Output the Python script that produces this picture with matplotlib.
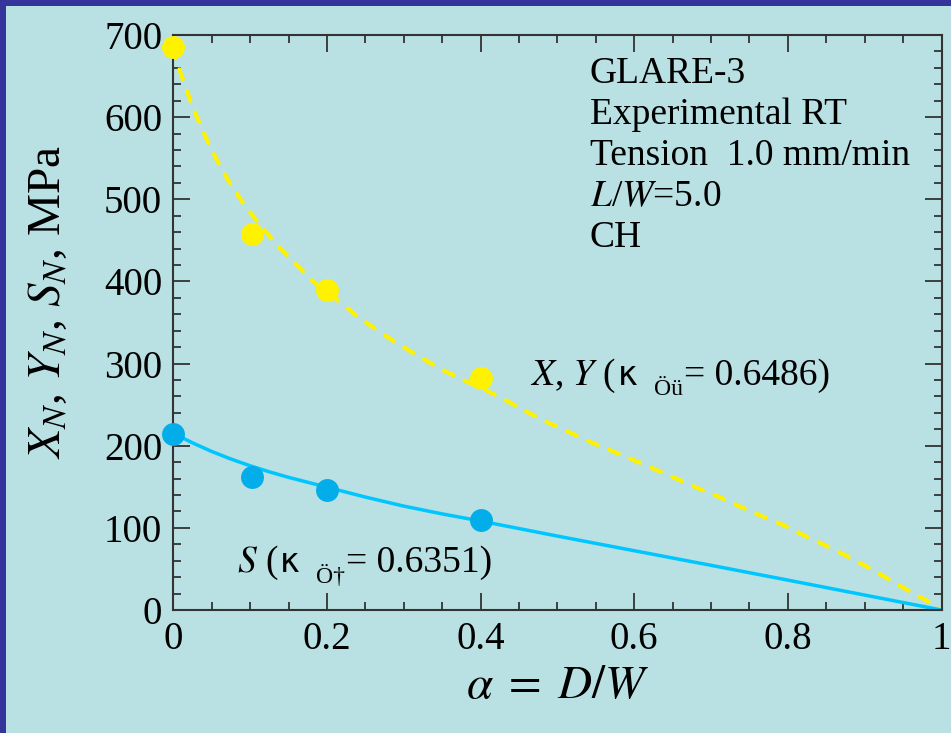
import matplotlib
matplotlib.use("Agg")
import matplotlib.pyplot as plt
from matplotlib.patches import Rectangle
from matplotlib.ticker import MultipleLocator
from matplotlib.transforms import IdentityTransform

plt.rcParams["font.family"] = ["Liberation Serif", "DejaVu Serif"]
plt.rcParams["mathtext.fontset"] = "stix"

# Measured notched strengths (MPa) vs. hole-to-width ratio
alpha_pts = [0.0, 0.103, 0.2, 0.4]
xy_pts = [685, 458, 390, 282]
s_pts = [214, 162, 146, 110]

# Fitted strength curves
xy_curve_a = [0, 0.0037, 0.011, 0.0208, 0.0317, 0.0434, 0.0573, 0.0725, 0.0911,
              0.1128, 0.1367, 0.1822, 0.208, 0.2387, 0.2668, 0.295, 0.322, 0.349,
              0.3775, 0.4057, 0.4275, 0.46, 0.488, 0.516, 0.542, 0.57, 0.599,
              0.627, 0.655, 0.683, 0.712, 0.738, 0.766, 0.794, 0.82, 0.848,
              0.874, 0.903, 0.931, 0.957, 0.987, 1.0]
xy_curve_v = [685, 669.6, 650, 623.7, 597.7, 573, 546.6, 521.5, 495, 468.7,
              442.3, 399.7, 381.4, 358.3, 339.6, 322.6, 307.6, 293, 280, 268,
              258, 241.4, 228, 216.3, 204.9, 194, 182.6, 171.3, 159.9, 148.2,
              137.2, 125.8, 114.4, 103.5, 91.3, 79.1, 67, 52.7, 37.7, 23.5, 8.2, 0]
s_curve_a = [0, 0.01, 0.025, 0.05, 0.075, 0.1, 0.125, 0.15, 0.2, 0.25, 0.3,
             0.35, 0.4, 0.5, 0.6, 0.7, 0.8, 0.9, 1.0]
s_curve_v = [215, 210.5, 203.5, 193, 183.8, 175.6, 168.2, 161.5, 149.5, 137.5,
             126.5, 117, 108.3, 90, 72.2, 54.4, 36.4, 18.2, 0]

x_ticks = [0, 0.2, 0.4, 0.6, 0.8, 1]
x_ticklabels = ["0", "0.2", "0.4", "0.6", "0.8", "1"]
y_ticks = [0, 100, 200, 300, 400, 500, 600, 700]

info_lines = ["GLARE-3", "Experimental RT", "Tension  1.0 mm/min",
              r"$L$/$W$=5.0", "CH"]

BG = "#B9E0E3"
FRAME = "#35349A"
YELLOW = "#FFF200"
BLUE_M = "#03ADE9"
BLUE_L = "#00C6FF"
AXC = "#333333"
W, H = 951, 733

fig = plt.figure(figsize=(W / 100, H / 100), dpi=100, facecolor=BG)
fig.patches.append(Rectangle((0, 0), 6 / W, 1, transform=fig.transFigure,
                             facecolor=FRAME, edgecolor="none", zorder=10))
fig.patches.append(Rectangle((0, 1 - 6 / H), 1, 6 / H, transform=fig.transFigure,
                             facecolor=FRAME, edgecolor="none", zorder=10))

ax = fig.add_axes([173.3 / W, 123 / H, (941.5 - 173.3) / W, 575 / H])
ax.set_facecolor(BG)
ax.set_xlim(0, 1)
ax.set_ylim(0, 700)

ax.plot(xy_curve_a, xy_curve_v, color=YELLOW, lw=3.0, linestyle=(0, (2.5, 3.0)),
        dash_capstyle="round", zorder=2)
ax.plot(s_curve_a, s_curve_v, color=BLUE_L, lw=2.5, zorder=2)
ax.plot(alpha_pts, xy_pts, "o", color=YELLOW, ms=16.5, mec="none", clip_on=False, zorder=3)
ax.plot(alpha_pts, s_pts, "o", color=BLUE_M, ms=16.5, mec="none", clip_on=False, zorder=3)

ax.set_xticks(x_ticks)
ax.set_xticklabels(x_ticklabels)
ax.set_yticks(y_ticks)
ax.xaxis.set_minor_locator(MultipleLocator(0.05))
ax.yaxis.set_minor_locator(MultipleLocator(20))
ax.tick_params(which="both", direction="in", top=True, right=True, color=AXC,
               width=1.3, labelsize=28, labelcolor="black")
ax.tick_params(which="major", length=12, pad=8)
ax.tick_params(which="minor", length=6)
for sp in ax.spines.values():
    sp.set_color(AXC)
    sp.set_linewidth(1.5)

ax.set_xlabel(r"$\alpha\;=\;D/W$", fontsize=34, labelpad=5)
ax.set_ylabel(r"$X_N$, $Y_N$, $S_N$, MPa", fontsize=34)
ax.yaxis.set_label_coords(-0.135, 0.535)

for i, line in enumerate(info_lines):
    ax.text(0.542, 641.6 - 49.9 * i, line, fontsize=27, va="baseline", ha="left")

# Curve labels built from runs of differently styled text (pixel layout)
fig.canvas.draw()
renderer = fig.canvas.get_renderer()


def text_run(x_px, y_px, pieces):
    x = x_px
    for s, kw, gap, drop in pieces:
        x += gap
        t = fig.text(x, H - y_px - drop, s, transform=IdentityTransform(),
                     va="baseline", ha="left", **kw)
        x = t.get_window_extent(renderer).x1


serif = dict(fontsize=27)
kappa = dict(fontsize=24, family="DejaVu Sans")
sub = dict(fontsize=17)

text_run(530, 385, [(r"$X$, $Y$ (", serif, 0, 0), ("κ", kappa, 2, 0),
                    ("Öü", sub, 16, 10), ("= 0.6486)", serif, 1, 0)])
text_run(236.7, 571.7, [(r"$S$ (", serif, 0, 0), ("κ", kappa, 2, 0),
                        ("Ö†", sub, 16, 11), ("= 0.6351)", serif, 1, 0)])

fig.savefig("out.png", dpi=100, facecolor=BG)
